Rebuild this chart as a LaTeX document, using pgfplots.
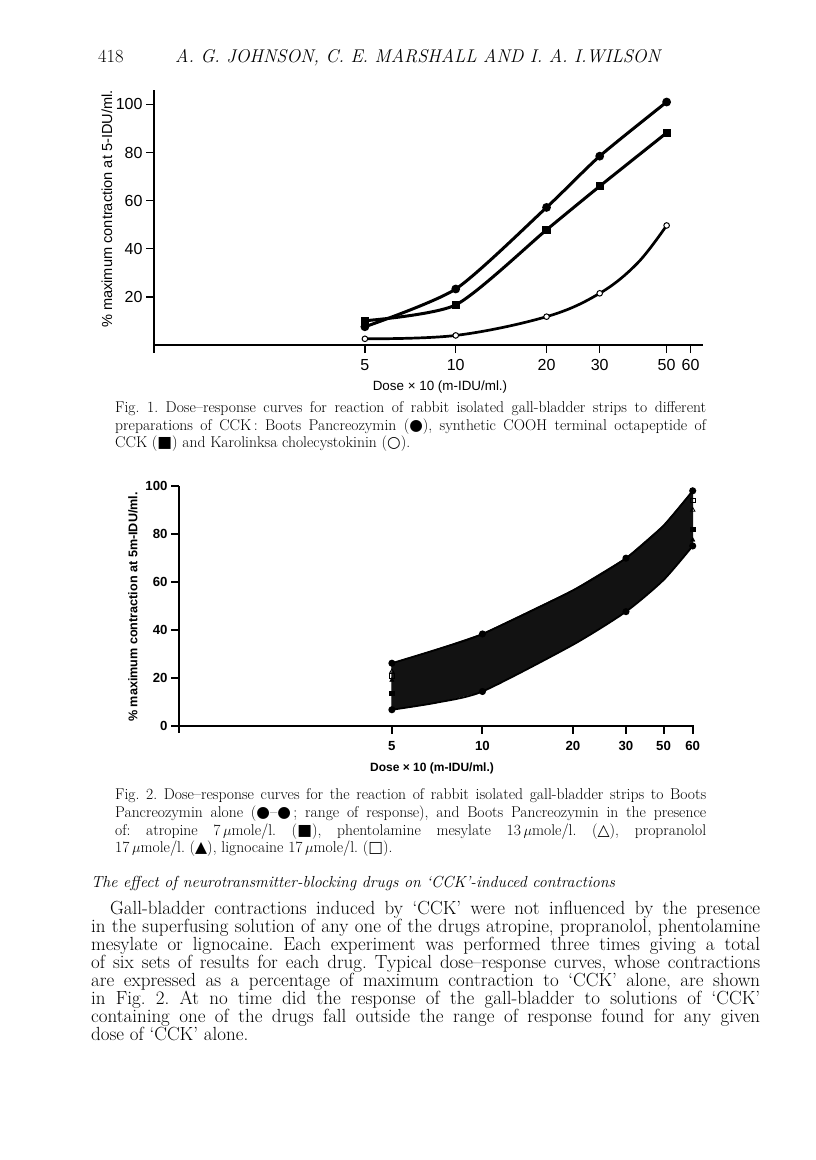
\documentclass[border=0pt]{standalone}
\usepackage{fontspec}
\usepackage{pgfplots}
\pgfplotsset{compat=1.18}
\newfontfamily\helv{Liberation Sans}
\newfontfamily\sym{DejaVu Sans}
\newcommand{\fs}[2]{\fontsize{#1}{#2}\selectfont}

\begin{document}
\frenchspacing
\begin{tikzpicture}[x=1pt,y=1pt]
\path[use as bounding box] (0,0) rectangle (816,1160);

% running head
\node[anchor=base west,inner sep=0] at (98,1160-63) {\fs{18.5}{20}418};
\node[anchor=base west,inner sep=0] at (175,1160-63) {\fs{18.4}{20}\itshape A. G. JOHNSON, C. E. MARSHALL AND I. A. I.WILSON};

% ---------------- Fig. 1 ----------------
\begin{axis}[
  at={(154pt,807pt)}, anchor=south west,
  scale only axis, width=549pt, height=263pt,
  xmode=log, xmin=1, xmax=66,
  ymin=-3.3, ymax=106,
  axis x line=middle, axis y line=left,
  axis line style={-, line width=1.3pt},
  xtick={5,10,20,30,50,60}, xticklabels={5,10,20,30,50,60},
  minor xtick={},
  ytick={20,40,60,80,100}, yticklabels={20,40,60,80,100},
  tick align=outside, major tick length=8pt,
  tick style={black, line width=1.3pt},
  /pgf/number format/assume math mode=true,
  tick label style={font={\helv\fs{16}{16}}},
  xticklabel style={yshift=-3pt},
  clip=false,
]
% Boots Pancreozymin
\addplot[black, line width=3pt, smooth, tension=0.4, mark=*, mark size=2.8pt]
  coordinates {(5,7.6) (10,23.3) (20,57.2) (30,78.5) (50,101)};
% synthetic octapeptide
\addplot[black, line width=3pt, smooth, tension=0.4, mark=square*, mark size=2.6pt]
  coordinates {(5,10.1) (10,16.7) (20,47.9) (30,66) (50,88.2)};
% Karolinska cholecystokinin (the curve passes about 34 at 40, no point there)
\addplot[black, line width=2.7pt, smooth, tension=0.6, mark=*, mark size=2.8pt,
  mark indices={1,2,3,4,6}, mark options={fill=white, line width=1pt}]
  coordinates {(5,2.6) (10,4.0) (20,11.8) (30,21.5) (40,34) (50,49.7)};
\end{axis}
\node[rotate=90,inner sep=0] at (107,1160-209) {\helv\fs{14.6}{16}\% maximum contraction at 5-IDU/ml.};
\node[inner sep=0] at (440,1160-387) {\helv\fs{13.4}{15}Dose × 10 (m-IDU/ml.)};

\node[anchor=base west,inner sep=0] at (115,1160-413) {\parbox[t]{591pt}{\fs{15.6}{17.2}%
Fig. 1. Dose--response curves for reaction of rabbit isolated gall-bladder strips to different\linebreak
preparations of CCK\,: Boots Pancreozymin ({\sym ●}), synthetic COOH terminal octapeptide of\linebreak
CCK ({\sym ■}) and Karolinksa cholecystokinin ({\sym ○}).}};

% ---------------- Fig. 2 ----------------
\begin{axis}[
  at={(179pt,427pt)}, anchor=south west,
  scale only axis, width=515pt, height=247pt,
  xmode=log, xmin=0.98, xmax=50.5,
  ymin=-3, ymax=100,
  axis x line=middle, axis y line=left,
  axis line style={-, line width=2pt},
  % the printed scale puts "50" and "60" where 40 and 50 fall
  xtick={5,10,20,30,40,50}, xticklabels={5,10,20,30,50,60},
  minor xtick={},
  ytick={0,20,40,60,80,100}, yticklabels={0,20,40,60,80,100},
  tick align=outside, major tick length=8pt,
  tick style={black, line width=2pt},
  /pgf/number format/assume math mode=true,
  tick label style={font={\helv\bfseries\fs{13.2}{14}}},
  xticklabel style={yshift=-4pt},
  clip=false,
]
% range of response (band), upper edge then lower edge back
\addplot[fill=black!93, draw=black!93, line width=1pt, mark=none] coordinates {
  (5,26.1) (7,31.7) (10,38.3) (20,56.5) (30,69.9) (40,83.5) (50,98)
  (50,75) (40,60.8) (30,47.6) (20,33.8) (10,14.3) (7,9.6) (5,6.7)} -- cycle;
\addplot[black, line width=1.8pt, smooth, tension=0.4, mark=*, mark size=2.6pt, mark indices={1,3,5,7}]
  coordinates {(5,26.1) (7,31.7) (10,38.3) (20,56.5) (30,69.9) (40,83.5) (50,98)};
\addplot[black, line width=1.8pt, smooth, tension=0.4, mark=*, mark size=2.6pt, mark indices={1,3,5,7}]
  coordinates {(5,6.7) (7,9.6) (10,14.3) (20,33.8) (30,47.6) (40,60.8) (50,75)};
% atropine
\addplot[only marks, mark=square*, mark size=2.3pt, black] coordinates {(5,13.6) (50,82)};
% phentolamine
\addplot[only marks, mark=triangle, mark size=2.6pt, black, mark options={fill=white, line width=0.8pt}] coordinates {(5,22.6) (50,90)};
% propranolol
\addplot[only marks, mark=triangle*, mark size=2.6pt, black] coordinates {(5,19) (50,77.5)};
% lignocaine
\addplot[only marks, mark=square, mark size=2.2pt, black, mark options={fill=white, line width=0.8pt}] coordinates {(5,20.8) (50,93.9)};
\end{axis}
\node[rotate=90,inner sep=0] at (133,1160-607) {\helv\bfseries\fs{12.6}{14}\% maximum contraction at 5m-IDU/ml.};
\node[inner sep=0] at (432,1160-768) {\helv\bfseries\fs{12}{14}Dose × 10 (m-IDU/ml.)};

\node[anchor=base west,inner sep=0] at (115,1160-800) {\parbox[t]{591pt}{\fs{15.6}{17.6}%
Fig. 2. Dose--response curves for the reaction of rabbit isolated gall-bladder strips to Boots\linebreak
Pancreozymin alone ({\sym ●}--{\sym ●}\,; range of response), and Boots Pancreozymin in the presence\linebreak
of: atropine 7\,$\mu$mole/l. ({\sym ■}), phentolamine mesylate 13\,$\mu$mole/l. ({\sym △}), propranolol\linebreak
17\,$\mu$mole/l. ({\sym ▲}), lignocaine 17\,$\mu$mole/l. ({\sym □}).}};

% ---------------- text ----------------
\node[anchor=base west,inner sep=0] at (91,1160-888) {\fs{16}{18}\itshape The effect of neurotransmitter-blocking drugs on `CCK'-induced contractions};

\node[anchor=base west,inner sep=0] at (91,1160-915) {\parbox[t]{669pt}{\fs{19}{18}\parindent=19pt\indent
Gall-bladder contractions induced by `CCK' were not influenced by the presence\linebreak
in the superfusing solution of any one of the drugs atropine, propranolol, phentolamine\linebreak
mesylate or lignocaine. Each experiment was performed three times giving a total\linebreak
of six sets of results for each drug. Typical dose--response curves, whose contractions\linebreak
are expressed as a percentage of maximum contraction to `CCK' alone, are shown\linebreak
in Fig. 2. At no time did the response of the gall-bladder to solutions of `CCK'\linebreak
containing one of the drugs fall outside the range of response found for any given\linebreak
dose of `CCK' alone.}};
\end{tikzpicture}
\end{document}
